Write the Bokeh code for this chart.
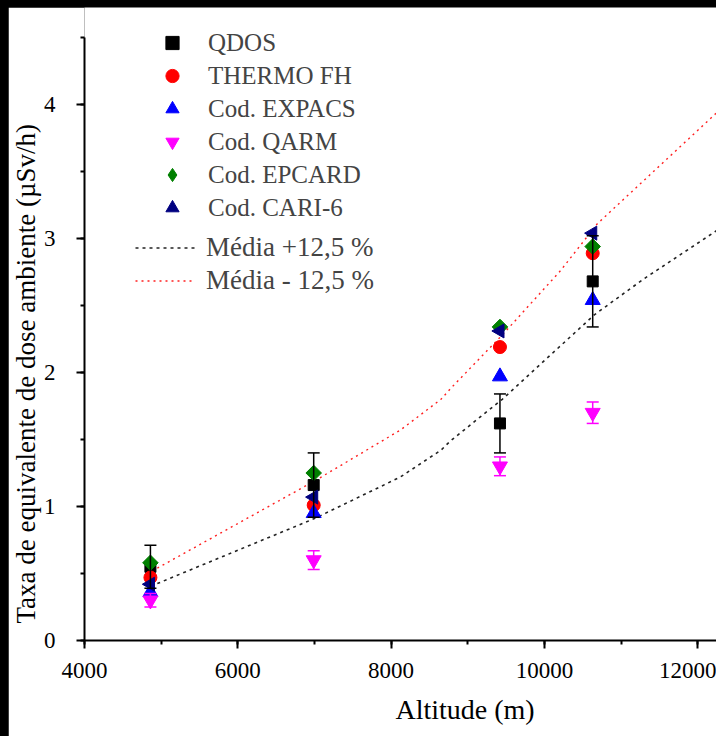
import math
from bokeh.plotting import figure
from bokeh.models import (Range1d, Whisker, TeeHead, ColumnDataSource, Legend,
                          LegendItem, Title, FixedTicker)
from bokeh.layouts import column
from bokeh.embed import file_html
from bokeh.resources import INLINE

# ---------------- data ----------------
altitude = [4860, 6990, 9420, 10630]
qdos = [0.55, 1.16, 1.62, 2.68]
qdos_err = [0.16, 0.24, 0.22, 0.34]
thermo_fh = [0.47, 1.01, 2.19, 2.89]
expacs = [0.36, 0.95, 1.97, 2.54]
qarm = [0.30, 0.60, 1.30, 1.70]
qarm_err = [0.05, 0.07, 0.07, 0.08]
epcard = [0.58, 1.25, 2.34, 2.94]
cari6 = [0.42, 1.07, 2.31, 3.04]

alt_plus = [4950, 7000, 8120, 8650, 8775, 9450, 10650, 11300, 12250]
media_plus = [0.425, 0.91, 1.22, 1.42, 1.49, 1.80, 2.43, 2.70, 3.06]
alt_minus = [4950, 7000, 8120, 8650, 8775, 9450, 10210, 10690, 12250]
media_minus = [0.54, 1.19, 1.57, 1.80, 1.88, 2.28, 2.76, 3.11, 3.94]

x_ticks = [4000, 6000, 8000, 10000, 12000]
y_ticks = [0, 1, 2, 3, 4]

FONT = "Liberation Serif"

p = figure(width=708, height=729, x_range=Range1d(4000, 12245), y_range=Range1d(0, 4.724),
           output_backend="svg", toolbar_location=None,
           min_border_left=76, min_border_top=0, min_border_right=0, min_border_bottom=96)
p.margin = (7, 0, 0, 8)
p.outline_line_color = None
p.grid.visible = False
p.background_fill_color = "white"
p.border_fill_color = "white"

for ax in (p.xaxis[0], p.yaxis[0]):
    ax.axis_line_width = 2
    ax.major_tick_line_width = 2
    ax.minor_tick_line_width = 2
    ax.major_tick_in = 0
    ax.major_tick_out = 8
    ax.minor_tick_in = 0
    ax.minor_tick_out = 4
    ax.major_label_text_font = FONT
    ax.major_label_text_font_size = "23px"
    ax.major_label_text_color = "black"
    ax.axis_line_color = "black"
    ax.major_tick_line_color = "black"
    ax.minor_tick_line_color = "black"

p.xaxis.ticker = FixedTicker(ticks=x_ticks, minor_ticks=list(range(4000, 13000, 1000)))
p.yaxis.ticker = FixedTicker(ticks=y_ticks, minor_ticks=[0.5 * i for i in range(10)])
p.yaxis.bounds = (0, 4.5)
p.xaxis.major_label_standoff = 14
p.yaxis.major_label_standoff = 21

# mean +/- 12.5 % lines
l_plus = p.line(alt_plus, media_plus, line_color="#222222", line_width=1.6, line_dash="3 4")
l_minus = p.line(alt_minus, media_minus, line_color="#ff2020", line_width=1.4, line_dash="2 4")

# markers
r_qdos = p.scatter(altitude, qdos, marker="square", size=11, color="black")
r_thermo = p.scatter(altitude, thermo_fh, marker="circle", size=13, color="#ff0000")
r_expacs = p.scatter(altitude, expacs, marker="triangle", size=15, color="#0000ff")
r_qarm = p.scatter(altitude, qarm, marker="inverted_triangle", size=15, color="#ff00ff")
k_epcard = p.scatter(altitude, epcard, marker="diamond", size=13, color="#008000")
r_epcard = p.scatter(altitude, epcard, marker="square", angle=math.pi / 4, size=11, color="#008000")
r_cari = p.scatter(altitude, cari6, marker="triangle", angle=math.pi / 2, size=14, color="#000080")

# error bars
src_q = ColumnDataSource(dict(x=altitude,
                              lo=[v - e for v, e in zip(qdos, qdos_err)],
                              hi=[v + e for v, e in zip(qdos, qdos_err)]))
src_m = ColumnDataSource(dict(x=altitude,
                              lo=[v - e for v, e in zip(qarm, qarm_err)],
                              hi=[v + e for v, e in zip(qarm, qarm_err)]))
for src, col in ((src_q, "black"), (src_m, "#ff00ff")):
    w = Whisker(base="x", lower="lo", upper="hi", source=src, dimension="height",
                line_color=col, line_width=1.5, level="overlay",
                upper_head=TeeHead(size=12, line_color=col, line_width=1.5),
                lower_head=TeeHead(size=12, line_color=col, line_width=1.5))
    p.add_layout(w)

# legends
leg1 = Legend(items=[LegendItem(label="QDOS", renderers=[r_qdos]),
                     LegendItem(label="THERMO FH", renderers=[r_thermo]),
                     LegendItem(label="Cod. EXPACS", renderers=[r_expacs]),
                     LegendItem(label="Cod. QARM", renderers=[r_qarm]),
                     LegendItem(label="Cod. EPCARD", renderers=[k_epcard]),
                     LegendItem(label="Cod. CARI-6", renderers=[r_cari])],
              location=(68, 416), glyph_width=40, glyph_height=33, label_height=33,
              label_standoff=16, spacing=0, padding=0, margin=0,
              label_text_font=FONT, label_text_font_size="25px",
              background_fill_alpha=0, border_line_color=None)
leg2 = Legend(items=[LegendItem(label="Média +12,5 %", renderers=[l_plus]),
                     LegendItem(label="Média - 12,5 %", renderers=[l_minus])],
              location=(51, 343), glyph_width=60, glyph_height=33, label_height=33,
              label_standoff=11, spacing=0, padding=0, margin=0,
              label_text_font=FONT, label_text_font_size="27px",
              background_fill_alpha=0, border_line_color=None)
p.add_layout(leg1, "center")
p.add_layout(leg2, "center")

# axis titles
p.add_layout(Title(text="Altitude (m)", align="left", offset=311, standoff=22,
                   text_font=FONT, text_font_size="28px", text_font_style="normal",
                   text_color="black"), "below")
p.add_layout(Title(text="Taxa de equivalente de dose ambiente (µSv/h)", align="left",
                   offset=17, standoff=0, text_font=FONT, text_font_size="27px",
                   text_font_style="normal", text_color="black"), "left")

root = column(p, styles={"background-color": "black"})
open("out.html", "w").write(file_html(root, INLINE))
